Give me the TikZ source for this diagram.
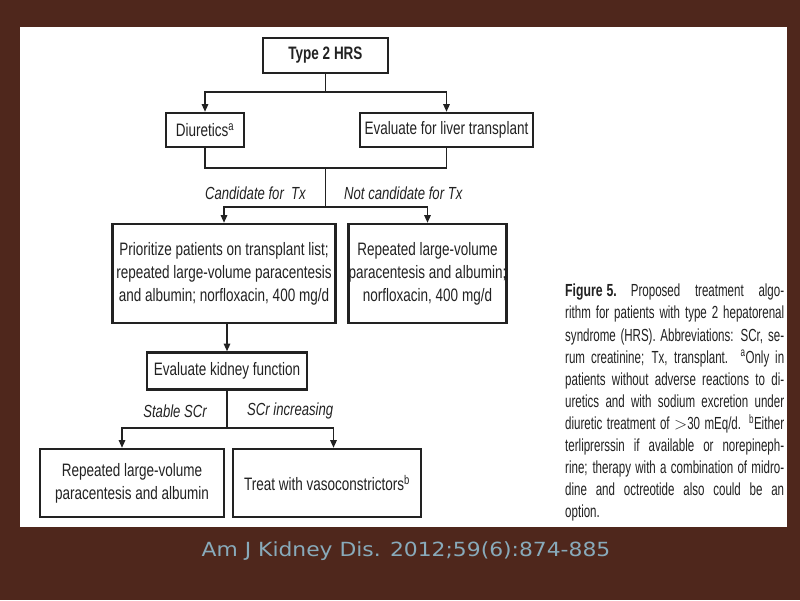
\documentclass[tikz,border=0pt]{standalone}
\usepackage{fontspec}
\setmainfont{Liberation Sans}[FakeStretch=0.75]
\newfontfamily\capfont{Liberation Sans}[FakeStretch=0.66]
\newfontfamily\figfont{Liberation Sans Bold}[FakeStretch=0.7]
\newfontfamily\citefont{DejaVu Sans}[FakeStretch=1.12]
\usetikzlibrary{arrows.meta}
\definecolor{slidebrown}{HTML}{4F271C}
\definecolor{citeblue}{HTML}{88AABA}
\definecolor{ink}{HTML}{222222}

\begin{document}
\begin{tikzpicture}[x=1pt,y=-1pt,>={Triangle[length=7.5pt,width=6.5pt]},
  flow box/.style={draw=ink,line width=2.6pt,fill=white,align=center,text=ink,
    inner sep=0pt,font=\fontsize{18}{23}\selectfont},
  branch label/.style={text=ink,inner sep=0pt,font=\fontsize{17.5}{20}\selectfont\itshape},
  link/.style={draw=ink,line width=1.2pt}]
  \useasboundingbox (0,0) rectangle (800,600);
  \fill[slidebrown] (0,0) rectangle (800,600);
  \fill[white] (20,27) rectangle (787,527);

  \node[flow box,minimum width=125,minimum height=35] (1) at (325.5,55.5) {\textbf{Type 2 HRS}};
  \node[flow box,minimum width=78,minimum height=34] (2) at (205,130) {Diuretics\textsuperscript{a}};
  \node[flow box,minimum width=173,minimum height=34] (3) at (446.5,130) {Evaluate for liver transplant};
  \node[flow box,minimum width=223,minimum height=99] (4) at (224,273.5)
    {Prioritize patients on transplant list;\\repeated large-volume paracentesis\\and albumin; norfloxacin, 400 mg/d};
  \node[flow box,minimum width=155,minimum height=99] (5) at (427.5,273.5)
    {Repeated large-volume\\paracentesis and albumin;\\norfloxacin, 400 mg/d};
  \node[flow box,minimum width=160,minimum height=37] (6) at (227,371) {Evaluate kidney function};
  \node[flow box,minimum width=184,minimum height=68] (7) at (132,483)
    {Repeated large-volume\\paracentesis and albumin};
  \node[flow box,minimum width=188,minimum height=68] (8) at (327,483) {Treat with vasoconstrictors\textsuperscript{b}};

  \coordinate (a) at (325.5,92);
  \coordinate (b) at (325.5,168);
  \coordinate (c) at (325.5,207);
  \coordinate (d) at (227,428);

  \draw[link] (1) -- (a);
  \draw[link,->] (a) -| (2);
  \draw[link,->] (a) -| (3);
  \draw[link] (2) |- (b) -| (3);
  \draw[link] (b) -- (c);
  \draw[link,->] (c) -| (4);
  \draw[link,->] (c) -| (5);
  \draw[link,->] (6 |- 4.south) -- (6);
  \draw[link] (6) -- (d);
  \draw[link,->] (d) -| ([xshift=-10pt]7.north);
  \draw[link,->] (d) -| ([xshift=6.5pt]8.north);

  \node[branch label,anchor=east] (9) at (306,193) {Candidate for~ Tx};
  \node[branch label,anchor=west] (10) at (344,193) {Not candidate for Tx};
  \node[branch label,anchor=east] (11) at (207,411) {Stable SCr};
  \node[branch label,anchor=west] (12) at (247,411) {SCr increasing};

  \node[anchor=north west,align=left,inner sep=0pt,text=ink,
    font=\capfont\fontsize{17.5}{22.1}\selectfont] (13) at (565,284)
    {\makebox[219pt][s]{{\figfont Figure\kern4pt 5.}\kern14pt Proposed treatment algo-}\\
     \makebox[219pt][s]{rithm for patients with type 2 hepatorenal}\\
     \makebox[219pt][s]{syndrome (HRS). Abbreviations: SCr, se-}\\
     \makebox[219pt][s]{rum creatinine; Tx, transplant. \textsuperscript{a}Only in}\\
     \makebox[219pt][s]{patients without adverse reactions to di-}\\
     \makebox[219pt][s]{uretics and with sodium excretion under}\\
     \makebox[219pt][s]{diuretic treatment of $>$30 mEq/d. \textsuperscript{b}Either}\\
     \makebox[219pt][s]{terliprerssin if available or norepineph-}\\
     \makebox[219pt][s]{rine; therapy with a combination of midro-}\\
     \makebox[219pt][s]{dine and octreotide also could be an}\\
     option.};

  \node[text=citeblue,font=\citefont\fontsize{19.5}{22}\selectfont] (14) at (406,551)
    {Am J Kidney Dis. 2012;59(6):874-885};
\end{tikzpicture}
\end{document}
